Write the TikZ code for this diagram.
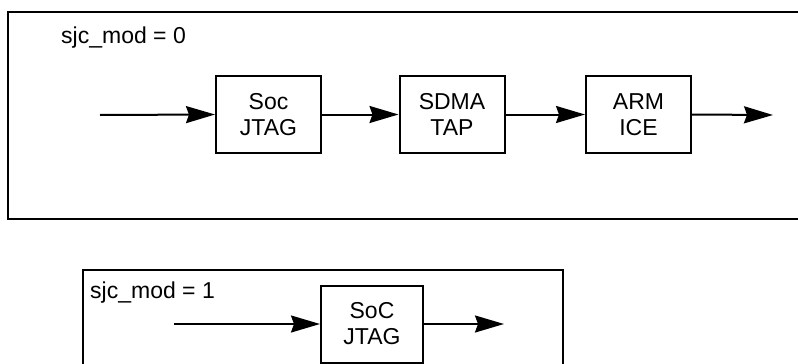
\documentclass[tikz,border=0pt]{standalone}
\usepackage{fontspec}
\setmainfont{Liberation Sans}
\usetikzlibrary{arrows.meta}
\begin{document}
\begin{tikzpicture}[x=1pt,y=-1pt,
  frame/.style={draw,line width=2pt},
  blk/.style={draw,line width=2pt,minimum width=105pt,minimum height=77pt,inner sep=0pt,align=center,font=\fontsize{23}{26}\selectfont},
  lbl/.style={anchor=base west,inner sep=0pt,font=\fontsize{23}{26}\selectfont},
  arr/.style={line width=2pt,-{Stealth[length=29pt,width=17pt,inset=3pt]}}]
\useasboundingbox (0,0) rectangle (798,364);
% top frame
\draw[frame] (8,12) rectangle (802,219);
\node[lbl] (t0) at (61,43) {sjc\_mod = 0};
\node[blk] (soc) at (268.5,114.5) {Soc\\JTAG};
\node[blk] (sdma) at (452,114.5) {SDMA\\TAP};
\node[blk] (arm) at (638.5,114.5) {ARM\\ICE};
\coordinate (in0) at (100,115);
\coordinate (out0) at (773,115);
\draw[arr] (in0) -- (soc.west);
\draw[arr] (soc.east) -- (sdma.west);
\draw[arr] (sdma.east) -- (arm.west);
\draw[arr] (arm.east) -- (out0);
% bottom frame
\draw[frame] (83,270) rectangle (563,370);
\node[lbl] (t1) at (90,298) {sjc\_mod = 1};
\node[blk,minimum width=102pt] (soc2) at (372,324) {SoC\\JTAG};
\coordinate (in1) at (174,324);
\coordinate (out1) at (504,324);
\draw[arr] (in1) -- (soc2.west);
\draw[arr] (soc2.east) -- (out1);
\end{tikzpicture}
\end{document}
